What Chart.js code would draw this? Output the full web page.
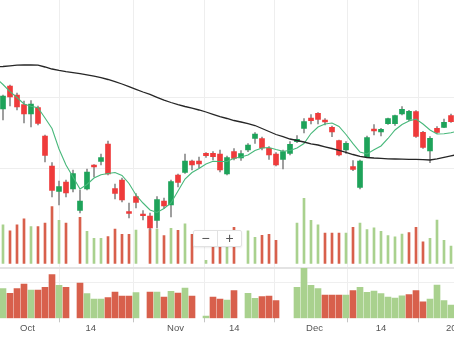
<!DOCTYPE html>
<html><head><meta charset="utf-8">
<script src="https://cdn.jsdelivr.net/npm/chart.js@4.4.1/dist/chart.umd.min.js"></script>
<style>
html,body{margin:0;padding:0;background:#fff;overflow:hidden}
#wrap{position:relative;width:454px;height:341px}
canvas{display:block}
#zoomctl{position:absolute;left:193px;top:230px;width:47px;height:15px;background:#fff;border:1px solid #e2e2e2;border-radius:2px;box-shadow:0 1px 2px rgba(0,0,0,0.08);display:flex;font:14px 'Liberation Sans',Arial,sans-serif;color:#555}
#zoomctl span{flex:1;text-align:center;line-height:15px}
#zoomctl span+span{border-left:1px solid #e2e2e2}
</style></head><body>
<div id="wrap"><canvas id="c" width="454" height="341"></canvas><div id="zoomctl"><span>−</span><span>+</span></div></div>
<script>
// ---- data (one entry per trading-day slot 0..64) ----
const open = [29.10,31.40,30.50,29.55,28.60,29.25,26.40,23.40,20.85,21.80,
  21.10,18.95,21.10,23.50,23.85,25.60,21.15,22.00,18.85,20.35,
  18.60,18.40,17.95,19.90,19.50,22.50,22.75,23.90,23.90,24.67,
  24.67,24.60,22.60,24.85,24.20,25.00,26.15,26.15,25.17,24.60,
  24.05,24.67,25.83,27.15,28.20,28.67,28.00,27.27,25.93,25.00,
  23.33,21.27,24.33,27.10,26.80,27.63,27.63,28.60,28.07,28.83,
  26.77,24.90,27.17,27.27,28.43];
const high = [30.50,31.50,30.70,29.90,29.95,29.40,26.50,23.75,21.90,22.00,
  23.00,21.00,23.10,23.55,24.60,25.90,21.60,22.20,19.70,20.65,
  18.95,18.70,20.35,20.20,22.00,22.60,24.60,24.00,24.30,24.73,
  24.83,25.00,24.40,25.15,24.95,25.65,26.73,26.30,25.33,24.73,
  25.00,25.83,26.45,28.13,28.55,28.73,28.15,27.40,26.00,25.83,
  23.93,24.00,26.40,27.55,27.17,28.20,28.50,29.33,28.97,28.93,
  26.87,26.33,27.33,28.10,28.60];
const low = [28.00,29.40,29.00,27.70,27.30,27.50,23.80,20.30,19.50,20.30,
  20.80,18.70,21.00,22.30,23.50,22.50,20.10,19.80,18.20,19.20,
  18.00,17.00,17.20,19.15,18.30,21.30,22.65,23.00,23.20,24.25,
  24.00,22.80,22.50,24.00,23.95,24.83,25.67,25.00,24.05,23.40,
  23.10,24.50,25.73,26.70,27.60,27.60,27.50,26.33,24.40,24.65,
  22.93,21.10,24.27,26.50,26.40,27.55,27.45,28.50,27.93,26.27,
  25.17,23.73,26.67,27.23,27.77];
const close = [30.40,30.30,29.30,28.60,29.60,27.65,24.45,20.95,21.35,20.70,
  22.65,19.90,22.80,23.30,24.25,22.60,20.65,20.00,18.65,19.75,
  18.43,17.20,20.05,19.40,21.85,21.75,23.90,23.50,23.60,24.43,
  24.33,23.00,24.25,24.17,24.65,25.50,26.60,25.20,24.50,23.50,
  24.83,25.57,26.07,27.83,27.93,28.07,27.80,26.80,24.50,25.67,
  23.07,23.90,26.23,26.90,27.07,28.13,28.43,29.07,28.87,26.35,
  25.27,26.17,26.77,27.77,27.83];
const volume = [296,250,296,343,283,283,310,436,330,310,
  null,353,246,193,193,206,263,223,223,256,
  null,263,263,213,270,253,303,223,null,23,
  213,193,183,276,null,250,200,216,223,176,
  null,null,310,500,330,296,233,233,233,233,
  276,310,260,273,246,213,203,225,236,276,
  165,192,332,176,133];
// moving averages, slots -1..65
const maStartSlot = -1;
const maSlow = [33.30,33.35,33.42,33.48,33.50,33.50,33.48,33.30,33.10,32.96,
  32.84,32.74,32.64,32.52,32.38,32.24,32.05,31.84,31.60,31.33,
  31.07,30.80,30.57,30.27,29.98,29.75,29.54,29.35,29.18,29.00,
  28.80,28.57,28.33,28.15,27.95,27.80,27.63,27.45,27.15,26.85,
  26.55,26.33,26.10,25.95,25.80,25.62,25.50,25.32,25.15,24.97,
  24.77,24.55,24.37,24.25,24.20,24.17,24.12,24.10,24.08,24.07,
  24.06,24.03,24.00,24.12,24.27,24.42,24.55];
const maFast = [32.20,31.55,30.83,30.25,29.60,29.37,29.22,28.20,27.15,25.10,
  23.50,22.30,21.10,21.55,22.20,22.53,22.65,22.75,22.45,21.65,
  20.50,19.70,19.00,18.75,19.15,19.70,20.90,22.10,22.75,23.15,
  23.60,23.87,23.85,23.85,24.17,24.30,24.50,24.95,25.20,25.25,
  25.05,24.87,24.95,25.20,25.65,26.65,27.30,27.60,27.70,27.35,
  26.55,25.63,24.80,24.60,25.03,25.40,26.15,27.00,27.55,27.90,
  28.10,27.60,27.00,26.60,26.63,26.73,26.90];
// time-axis ticks (in slot units) and their labels
const xTickSlots = [3.49, 12.53, 24.64, 33.04, 44.5, 54.0, 64.8];
const xTickLabels = ['Oct', '14', 'Nov', '14', 'Dec', '14', '2021'];
const priceGridValues = [30.29, 23.17];
const lowerGridValues = [363, 507];

// ---- styling ----
const UP = '#1ea35a', DOWN = '#ef3b3b', WICK = '#8c8c8c';
const VUP = '#a9d18e', VDOWN = '#d8604c';
const idx = open.map((_, i) => i);
const volColor = idx.map(i => (i === 0 ? close[i] >= open[i] : close[i] >= close[i - 1]) ? VUP : VDOWN);

new Chart(document.getElementById('c'), {
  type: 'bar',
  data: {
    datasets: [
      { type: 'line', label: 'MA long', yAxisID: 'y', order: 1,
        data: maSlow.map((v, k) => ({ x: k + maStartSlot, y: v })),
        borderColor: '#262626', borderWidth: 1.3, pointRadius: 0, tension: 0 },
      { type: 'line', label: 'MA short', yAxisID: 'y', order: 2,
        data: maFast.map((v, k) => ({ x: k + maStartSlot, y: v })),
        borderColor: '#48b87b', borderWidth: 1.1, pointRadius: 0, tension: 0 },
      { label: 'body', yAxisID: 'y', order: 3, grouped: false, barThickness: 5, minBarLength: 1,
        data: idx.map(i => ({ x: i, y: [open[i], close[i]] })),
        backgroundColor: idx.map(i => close[i] >= open[i] ? UP : DOWN), borderWidth: 0 },
      { label: 'wick', yAxisID: 'y', order: 4, grouped: false, barThickness: 1,
        data: idx.map(i => ({ x: i, y: [low[i], high[i]] })),
        backgroundColor: WICK, borderWidth: 0 },
      { label: 'vol', yAxisID: 'yv', order: 5, grouped: false, barThickness: 2,
        data: idx.map(i => ({ x: i, y: volume[i] })),
        backgroundColor: volColor, borderWidth: 0 },
      { label: 'vol2', yAxisID: 'yl', order: 6, grouped: false, barThickness: 6,
        data: idx.map(i => ({ x: i, y: volume[i] })),
        backgroundColor: volColor, borderWidth: 0 }
    ]
  },
  options: {
    responsive: false, animation: false, events: [],
    layout: { padding: 0 },
    plugins: { legend: { display: false }, tooltip: { enabled: false } },
    scales: {
      x: {
        type: 'linear', position: 'bottom', min: -3 / 7, max: (454 - 3) / 7, offset: false,
        grid: { color: '#eeeeee', tickColor: '#c4c4c4', tickLength: 4 },
        border: { display: false },
        ticks: { autoSkip: false, maxRotation: 0, padding: 0, color: '#555',
          font: { family: 'Liberation Sans', size: 9.5 },
          callback: (v, i) => xTickLabels[i] },
        afterBuildTicks: s => { s.ticks = xTickSlots.map(v => ({ value: v })); },
        afterFit: s => { s.height = 22.7; s.paddingLeft = 0; s.paddingRight = 0; }
      },
      y: {
        type: 'linear', position: 'left', min: 8.17, max: 40,
        ticks: { display: false }, border: { display: false },
        grid: { color: '#eeeeee', drawTicks: false },
        afterBuildTicks: s => { s.ticks = priceGridValues.map(v => ({ value: v })); },
        afterFit: s => { s.width = 0; }
      },
      yv: { type: 'linear', display: false, min: -423, max: 2025.5 },
      yl: {
        type: 'linear', position: 'left', min: 0, max: 3183,
        ticks: { display: false }, border: { display: false },
        grid: { drawTicks: false,
          color: c => c.index === 1 ? '#e3e3e3' : '#efefef',
          lineWidth: c => c.index === 1 ? 2 : 1 },
        afterBuildTicks: s => { s.ticks = lowerGridValues.map(v => ({ value: v })); },
        afterFit: s => { s.width = 0; }
      }
    }
  }
});
</script>
</body></html>
